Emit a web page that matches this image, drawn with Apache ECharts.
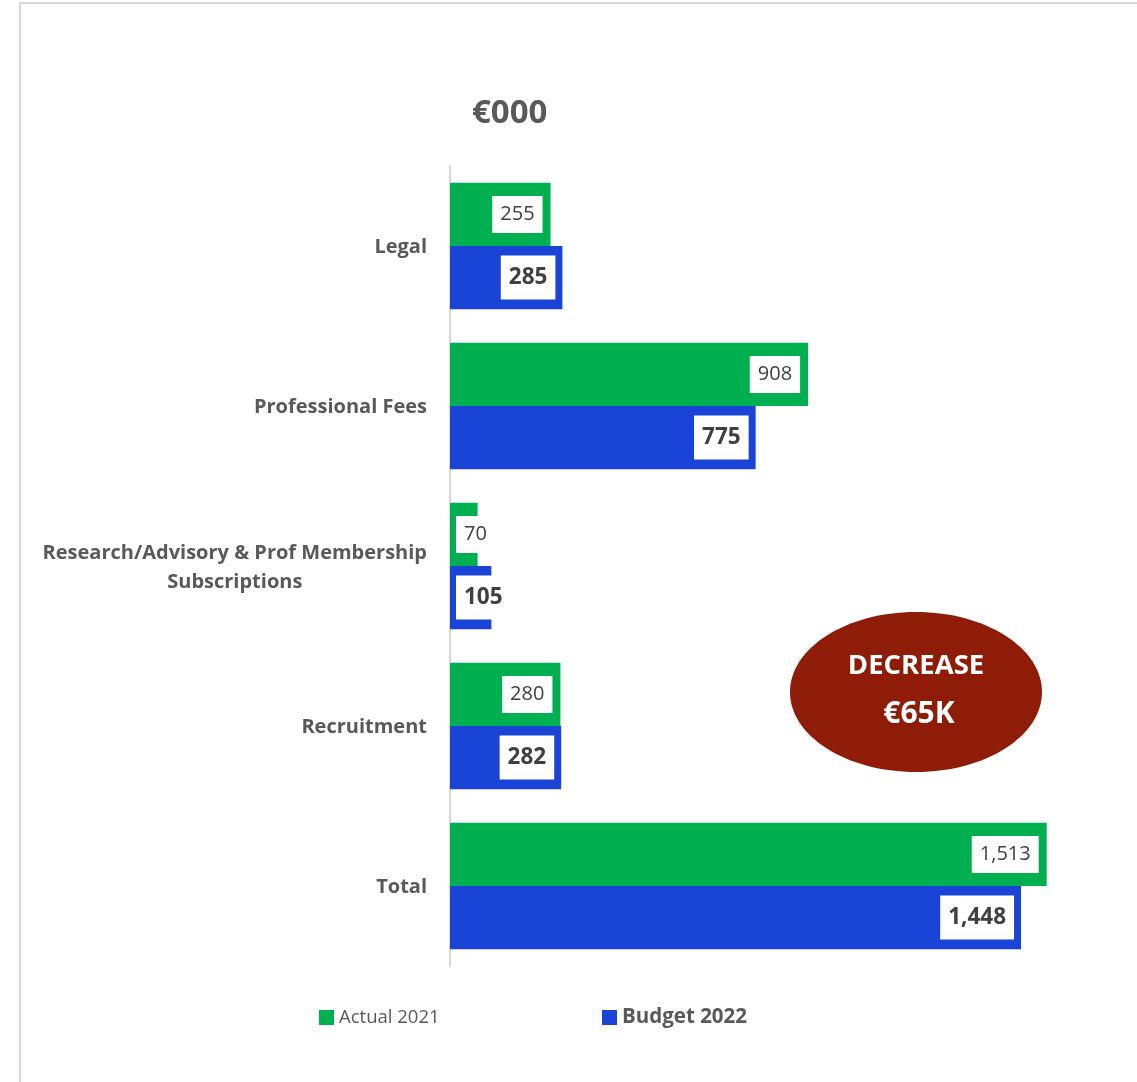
<!DOCTYPE html>
<html>
<head>
<meta charset="utf-8">
<script src="https://cdn.jsdelivr.net/npm/echarts@6/dist/echarts.min.js"></script>
<style>
  html, body { margin: 0; padding: 0; background: #fff; }
  #chart { width: 1137px; height: 1082px; }
</style>
</head>
<body>
<div id="chart"></div>
<script>
// data
var categories = ["Legal", "Professional Fees", "Research/Advisory & Prof Membership\nSubscriptions", "Recruitment", "Total"];
var actual2021 = [255, 908, 70, 280, 1513];
var budget2022 = [285, 775, 105, 282, 1448];
var seriesNames = ["Actual 2021", "Budget 2022"];

var FONT = "Open Sans";
var GREY = "#595959";

// short bars: label goes at the bar base
function toItems(values) {
  return values.map(function (v) {
    if (v < 150) {
      return { value: v, label: { position: "insideLeft", distance: 6 } };
    }
    return v;
  });
}

function fmt(p) {
  return p.value.toLocaleString("en-US");
}

var chart = echarts.init(document.getElementById("chart"));

var option = {
  animation: false,
  backgroundColor: "#fff",
  title: {
    text: "€000",
    left: 467,
    top: 92,
    textStyle: { fontFamily: FONT, fontSize: 33, fontWeight: "bold", color: GREY }
  },
  legend: [
    {
      data: [seriesNames[0]],
      left: 314,
      top: 1003,
      itemWidth: 15,
      itemHeight: 15,
      itemGap: 5,
      icon: "rect",
      textStyle: { fontFamily: FONT, fontSize: 18.5, color: GREY }
    },
    {
      data: [seriesNames[1]],
      left: 597,
      top: 1002,
      itemWidth: 15,
      itemHeight: 15,
      icon: "rect",
      textStyle: { fontFamily: FONT, fontSize: 20.5, fontWeight: "bold", color: GREY }
    }
  ],
  grid: { left: 450, top: 166, width: 631, height: 800, containLabel: false },
  xAxis: {
    type: "value",
    min: 0,
    max: 1600,
    show: false
  },
  yAxis: {
    type: "category",
    data: categories,
    inverse: true,
    axisLine: { show: true, lineStyle: { color: "#d9d9d9", width: 2 } },
    axisTick: { show: false },
    axisLabel: {
      margin: 23,
      fontFamily: FONT,
      fontSize: 20,
      fontWeight: "bold",
      color: GREY,
      formatter: function (v) {
        return v.split("\n").map(function (s) { return "{c|" + s + "}"; }).join("\n");
      },
      rich: {
        c: { fontFamily: FONT, fontSize: 20, fontWeight: "bold", color: GREY, align: "center", lineHeight: 29, padding: [3, 0, 0, 0] }
      }
    }
  },
  series: [
    {
      name: seriesNames[0],
      type: "bar",
      data: toItems(actual2021),
      barGap: "0%",
      barCategoryGap: "21%",
      itemStyle: { color: "#00B050" },
      label: {
        show: true,
        position: "insideRight",
        distance: 8,
        formatter: fmt,
        fontFamily: FONT,
        fontSize: 20,
        color: "#404040",
        backgroundColor: "#fff",
        padding: [10, 8, 7, 8]
      }
    },
    {
      name: seriesNames[1],
      type: "bar",
      data: toItems(budget2022),
      itemStyle: { color: "#1944D6" },
      label: {
        show: true,
        position: "insideRight",
        distance: 7,
        formatter: fmt,
        fontFamily: FONT,
        fontSize: 22.5,
        fontWeight: "bold",
        color: "#404040",
        backgroundColor: "#fff",
        padding: [12, 8, 9, 8]
      }
    }
  ],
  graphic: [
    {
      type: "rect",
      shape: { x: 20, y: 3, width: 1300, height: 1300 },
      style: { fill: null, stroke: "#d9d9d9", lineWidth: 2 },
      silent: true
    },
    {
      type: "ellipse",
      shape: { cx: 916, cy: 692, rx: 126, ry: 80 },
      style: { fill: "#8E1C06" }
    },
    {
      type: "text",
      x: 916,
      y: 666,
      style: {
        text: "DECREASE",
        fill: "#fff",
        font: "bold 27.5px " + FONT,
        align: "center",
        verticalAlign: "middle"
      }
    },
    {
      type: "text",
      x: 919,
      y: 714,
      style: {
        text: "€65K",
        fill: "#fff",
        font: "bold 30px " + FONT,
        align: "center",
        verticalAlign: "middle"
      }
    }
  ]
};

chart.setOption(option);
</script>
</body>
</html>
